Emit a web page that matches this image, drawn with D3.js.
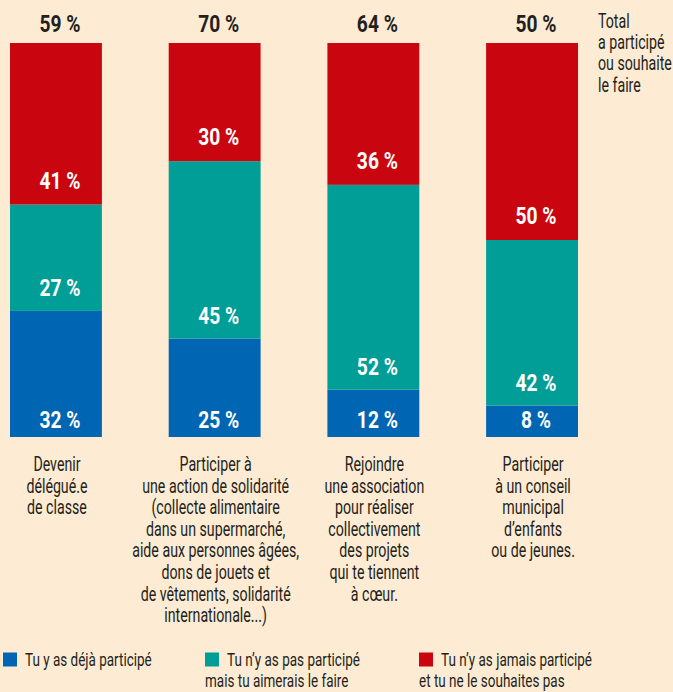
<!DOCTYPE html>
<html>
<head>
<meta charset="utf-8">
<script src="https://cdn.jsdelivr.net/npm/d3@7"></script>
<style>
  body { margin: 0; background: #fdebd3; }
  svg { display: block; font-family: Roboto, "DejaVu Sans Condensed", sans-serif; }
</style>
</head>
<body>
<svg id="myGraph" width="673" height="692"></svg>
<script>
// données
var categories = ["delegue", "solidarite", "association", "conseil"];
var dejaParticipe = [32, 25, 12, 8];
var aimeraisFaire = [27, 45, 52, 42];
var jamaisParticipe = [41, 30, 36, 50];
var totals = ["59 %", "70 %", "64 %", "50 %"];
var categoryLabels = [
    ["Devenir", "délégué.e", "de classe"],
    ["Participer à", "une action de solidarité", "(collecte alimentaire", "dans un supermarché,", "aide aux personnes âgées,", "dons de jouets et", "de vêtements, solidarité", "internationale...)"],
    ["Rejoindre", "une association", "pour réaliser", "collectivement", "des projets", "qui te tiennent", "à cœur."],
    ["Participer", "à un conseil", "municipal", "d’enfants", "ou de jeunes."]
];
var totalNote = ["Total", "a participé", "ou souhaite", "le faire"];
var seriesKeys = ["deja", "aimerais", "jamais"];
var seriesColors = ["#0066b3", "#009e96", "#c9060f"];
var legendLabels = [
    ["Tu y as déjà participé"],
    ["Tu n’y as pas participé", "mais tu aimerais le faire"],
    ["Tu n’y as jamais participé", "et tu ne le souhaites pas"]
];

var svg = d3.select("#myGraph");

// police étroite : on compresse horizontalement
var narrow = 0.71;
var narrowBold = 0.8;
var labelOffset = [9, 14.5, 16]; // distance du bas du segment à la ligne de base
var boldShift = 4; // les pourcentages sont un peu décalés à droite

var rows = categories.map(function(c, i){
    return { cat: c, deja: dejaParticipe[i], aimerais: aimeraisFaire[i], jamais: jamaisParticipe[i] };
});

var xScale = d3.scaleBand()
    .domain(categories)
    .range([10, 578])
    .paddingInner(0.421)
    .paddingOuter(0);

var yScale = d3.scaleLinear()
    .domain([0, 100])
    .range([437, 43]);

var stacked = d3.stack().keys(seriesKeys)(rows);

function at(x, y, s){
    return "translate(" + x + "," + y + ") scale(" + s + ",1)";
}

// barres empilées
var layers = svg.append("g")
    .selectAll("g")
    .data(stacked)
    .enter()
    .append("g")
    .attr("fill", function(d, i){ return seriesColors[i]; });

layers.selectAll("rect")
    .data(function(d){ return d; })
    .enter()
    .append("rect")
    .attr("x", function(d){ return xScale(d.data.cat); })
    .attr("width", xScale.bandwidth())
    .attr("y", function(d){ return yScale(d[1]); })
    .attr("height", function(d){ return yScale(d[0]) - yScale(d[1]); });

// valeurs dans les barres
layers.each(function(layer, li){
    d3.select(this).selectAll("text")
        .data(layer)
        .enter()
        .append("text")
        .attr("transform", function(d){
            return at(xScale(d.data.cat) + xScale.bandwidth() / 2 + boldShift, yScale(d[0]) - labelOffset[li], narrowBold);
        })
        .attr("text-anchor", "middle")
        .attr("fill", "#ffffff")
        .attr("font-weight", "bold")
        .attr("font-size", "24px")
        .text(function(d){ return (d[1] - d[0]) + " %"; });
});

// totaux en haut
svg.append("g")
    .selectAll("text")
    .data(categories)
    .enter()
    .append("text")
    .attr("transform", function(d){ return at(xScale(d) + xScale.bandwidth() / 2 + boldShift, 31.5, narrowBold); })
    .attr("text-anchor", "middle")
    .attr("fill", "#231f20")
    .attr("font-weight", "bold")
    .attr("font-size", "24px")
    .text(function(d, i){ return totals[i]; });

// note "Total"
svg.append("text")
    .attr("transform", at(598, 28, narrow))
    .attr("fill", "#231f20")
    .attr("font-size", "20px")
    .selectAll("tspan")
    .data(totalNote)
    .enter()
    .append("tspan")
    .attr("x", 0)
    .attr("dy", function(d, i){ return i === 0 ? 0 : 21.2; })
    .text(function(d){ return d; });

// libellés des catégories
svg.append("g")
    .selectAll("text")
    .data(categories)
    .enter()
    .append("text")
    .attr("transform", function(d){ return at(xScale(d) + xScale.bandwidth() / 2 + 1, 471, narrow); })
    .attr("text-anchor", "middle")
    .attr("fill", "#231f20")
    .attr("font-size", "20px")
    .selectAll("tspan")
    .data(function(d, i){ return categoryLabels[i]; })
    .enter()
    .append("tspan")
    .attr("x", 0)
    .attr("dy", function(d, i){ return i === 0 ? 0 : 21.6; })
    .text(function(d){ return d; });

// légende
var legendX = [3, 205, 419];
var legend = svg.append("g")
    .selectAll("g")
    .data(legendLabels)
    .enter()
    .append("g")
    .attr("transform", function(d, i){ return "translate(" + legendX[i] + ",0)"; });

legend.append("rect")
    .attr("x", 0)
    .attr("y", 652.5)
    .attr("width", 14)
    .attr("height", 14)
    .attr("fill", function(d, i){ return seriesColors[i]; });

legend.append("text")
    .attr("transform", at(0, 666, narrow))
    .attr("fill", "#231f20")
    .attr("font-size", "19px")
    .selectAll("tspan")
    .data(function(d){ return d; })
    .enter()
    .append("tspan")
    .attr("x", function(d, i){ return i === 0 ? 22 / narrow : 0; })
    .attr("dy", function(d, i){ return i === 0 ? 0 : 21.5; })
    .text(function(d){ return d; });
</script>
</body>
</html>
